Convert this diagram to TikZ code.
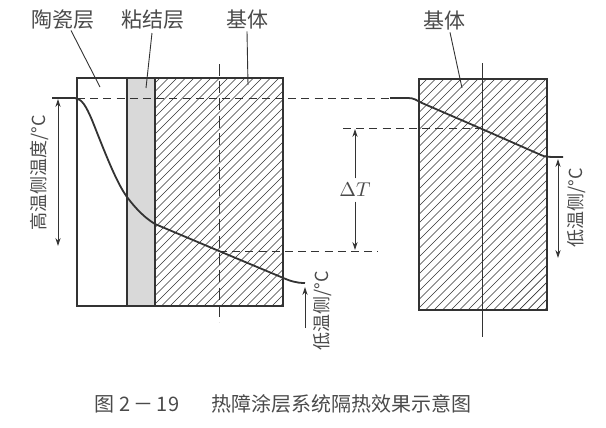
\documentclass[tikz,border=0pt]{standalone}
\usepackage{fontspec}
\newfontfamily\cjk{Noto Sans CJK SC}
\usetikzlibrary{arrows.meta}
\definecolor{ink}{HTML}{333333}
\definecolor{txt}{HTML}{4A4A4A}
\definecolor{bond}{HTML}{D9D9D9}

\begin{document}
\begin{tikzpicture}[x=0.5pt,y=-0.5pt,>={Stealth[length=4pt,width=2.6pt]},line width=.7pt,every node/.style={font=\cjk\fontsize{10.5}{12}\selectfont,text=txt,inner sep=1pt},side/.style={rotate=90,font=\cjk\fontsize{9}{10}\selectfont},lead/.style={ink,line width=.45pt},dim/.style={ink,line width=.45pt},hatch/.style={ink,line width=.35pt},guide/.style={ink,line width=.5pt,dash pattern=on 4pt off 2.6pt},curve/.style={ink,line width=.9pt}]
\path[use as bounding box] (0,0) rectangle (606,428);

% left: coating system
\fill[bond] (127,78) rectangle (155,306);
\begin{scope}
\clip (155,78) rectangle (283,306);
\foreach \i in {0,...,45} \draw[hatch] (155-240+\i*8.5,306)--++(300,-300);
\end{scope}
\draw[ink,line width=.8pt] (77,78) rectangle (283,306);
\draw[ink,line width=.8pt] (127,78)--(127,306) (155,78)--(155,306);
\draw[guide,line width=.45pt,dash pattern=on 6pt off 2.6pt] (219,64)--(219,322);

% right: bare substrate
\begin{scope}
\clip (419,79) rectangle (547,310);
\foreach \i in {0,...,45} \draw[hatch] (419-240+\i*8.5,310)--++(300,-300);
\end{scope}
\draw[ink,line width=.8pt] (419,79) rectangle (547,310);
\draw[ink,line width=.45pt] (482,63)--(482,337);

% guides
\draw[guide] (77,98)--(390,98);
\draw[guide] (343,128)--(482,128);
\draw[guide] (219,251)--(378,251);

% temperature profiles
\draw[curve] (52,98)--(75,98) .. controls (82,99) and (86,106) .. (92,120)
  .. controls (104,150) and (116,182) .. (127,197)
  .. controls (136,209) and (145,218) .. (155,224)
  -- (219,251) -- (281,277) .. controls (290,281) and (296,283) .. (305,283);
\draw[curve] (390,98)--(408,98) .. controls (414,98) and (416,100) .. (422,103)
  -- (482,129) -- (541,155) .. controls (545,157) and (548,157) .. (563,157);

% labels
\node (lblCeramic) at (63,20) {陶瓷层};
\node (lblBond) at (153,20) {粘结层};
\node (lblSub) at (247,19) {基体};
\node (lblSubR) at (444,20) {基体};
\coordinate (ptCeramic) at (100,87);
\coordinate (ptBond) at (146,88);
\coordinate (ptSub) at (248,85);
\coordinate (ptSubR) at (462,88);
\draw[lead] (lblCeramic.south)++(8,-2) -- (ptCeramic);
\draw[lead] (lblBond) ++(-1,13) -- (ptBond);
\draw[lead] (lblSub.south) -- (ptSub);
\draw[lead] (lblSubR.south)++(6,0) -- (ptSubR);

\node[side] (lblHot) at (40,173) {高温侧温度/°C};
\coordinate (hotTop) at (58,99);
\coordinate (hotBot) at (58,246);
\draw[dim,<->] (hotTop)--(hotBot);

\node[side] (lblCold) at (323,311) {低温侧/°C};
\coordinate (coldTip) at (305,287);
\coordinate (coldEnd) at (305,328);
\draw[dim,->] (coldEnd)--(coldTip);

\node[side] (lblColdR) at (577,208) {低温侧/°C};
\coordinate (coldRTop) at (558,159);
\coordinate (coldRBot) at (558,258);
\draw[dim,<->] (coldRTop)--(coldRBot);

\node[fill=white,font=\fontsize{10}{12}\selectfont,inner sep=2pt] (lblDT) at (355,190) {$\Delta T$};
\coordinate (dtTop) at (355,129);
\coordinate (dtBot) at (355,250);
\draw[dim,->] (lblDT)--(dtTop);
\draw[dim,->] (lblDT)--(dtBot);

\node[anchor=west,font=\cjk\fontsize{10}{12}\selectfont] (caption) at (92,404) {图 2\,－\,19\hspace{1.6em}热障涂层系统隔热效果示意图};

\end{tikzpicture}
\end{document}
